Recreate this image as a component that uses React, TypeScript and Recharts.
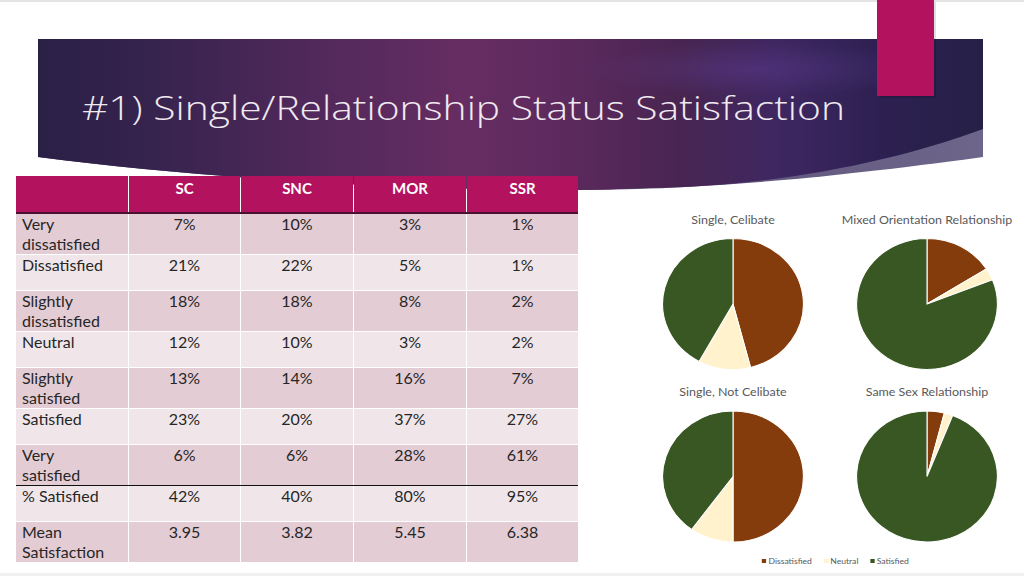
import React from 'react';
import { PieChart, Pie, Cell } from 'recharts';

// ---------- data ----------
const slideTitle = '#1) Single/Relationship Status Satisfaction';
const tableColumns = ['SC', 'SNC', 'MOR', 'SSR'];
const rowLabels = [
  'Very\ndissatisfied',
  'Dissatisfied',
  'Slightly\ndissatisfied',
  'Neutral',
  'Slightly\nsatisfied',
  'Satisfied',
  'Very\nsatisfied',
  '% Satisfied',
  'Mean\nSatisfaction',
];
const scValues = ['7%', '21%', '18%', '12%', '13%', '23%', '6%', '42%', '3.95'];
const sncValues = ['10%', '22%', '18%', '10%', '14%', '20%', '6%', '40%', '3.82'];
const morValues = ['3%', '5%', '8%', '3%', '16%', '37%', '28%', '80%', '5.45'];
const ssrValues = ['1%', '1%', '2%', '2%', '7%', '27%', '61%', '95%', '6.38'];

const pieCategories = ['Dissatisfied', 'Neutral', 'Satisfied'];
const scPie = [46, 12, 42];
const sncPie = [50, 10, 40];
const morPie = [16, 3, 81];
const ssrPie = [4, 2, 95];
const pieTitles = ['Single, Celibate', 'Mixed Orientation Relationship', 'Single, Not Celibate', 'Same Sex Relationship'];
const pieColors = ['#843C0C', '#FFF2CC', '#385723'];

// ---------- layout ----------
const colEdges = [16, 128, 240, 353, 466, 578];
const headerTop = 176;
const headerBottom = 213;
const rowHeights = [41, 36, 41, 36, 41, 36, 41, 36, 41];
const darkRow = '#E4CCD4';
const lightRow = '#F0E6EA';
const magenta = '#B3125E';

const toData = (vals: number[]) => vals.map((v, i) => ({ name: pieCategories[i], value: v }));

const SCALE_X = 1.075;
const PIE_LEFT = 650;
const PIE_TOP = 200;
const pre = (x: number) => (x - PIE_LEFT) / SCALE_X;

const pies = [
  { vals: scPie, cx: pre(733), cy: 304 - PIE_TOP, title: pieTitles[0], ty: 12 },
  { vals: morPie, cx: pre(927), cy: 304 - PIE_TOP, title: pieTitles[1], ty: 12 },
  { vals: sncPie, cx: pre(733), cy: 476.5 - PIE_TOP, title: pieTitles[2], ty: 184 },
  { vals: ssrPie, cx: pre(927), cy: 476.5 - PIE_TOP, title: pieTitles[3], ty: 184 },
];

const columnsValues = [scValues, sncValues, morValues, ssrValues];

function Banner() {
  return (
    <svg width={1024} height={576} style={{ position: 'absolute', left: 0, top: 0 }}>
      <defs>
        <linearGradient id="bannerGrad" x1="0" x2="1" y1="0" y2="0">
          <stop offset="0" stopColor="#2A2046" />
          <stop offset="0.12" stopColor="#36234E" />
          <stop offset="0.3" stopColor="#52295C" />
          <stop offset="0.45" stopColor="#662D62" />
          <stop offset="0.55" stopColor="#5E2A5E" />
          <stop offset="0.68" stopColor="#482551" />
          <stop offset="0.78" stopColor="#3F2762" />
          <stop offset="0.9" stopColor="#2C2050" />
          <stop offset="1" stopColor="#262047" />
        </linearGradient>
        <radialGradient id="glow" cx="0.76" cy="0.2" r="0.18">
          <stop offset="0" stopColor="#5E3C92" stopOpacity="0.45" />
          <stop offset="1" stopColor="#5E3C92" stopOpacity="0" />
        </radialGradient>
        <linearGradient id="sweepGrad" x1="0" x2="1" y1="0" y2="0">
          <stop offset="0" stopColor="#4A3660" />
          <stop offset="0.6" stopColor="#5C5078" />
          <stop offset="1" stopColor="#6E668A" />
        </linearGradient>
      </defs>
      <rect x={0} y={0} width={1024} height={2} fill="#E4E4E4" />
      <rect x={0} y={573} width={1024} height={3} fill="#F0F0F0" />
      <path d="M983,157 C800,182 680,190 570,190 C400,190 200,178 38,157 L38,39 L983,39 Z" fill="url(#sweepGrad)" />
      <path
        d="M38,39 H983 V129 C900,160 780,186 650,188 C620,189 595,190 570,190 C400,190 200,178 38,157 Z"
        fill="url(#bannerGrad)"
      />
      <path
        d="M38,39 H983 V129 C900,160 780,186 650,188 C620,189 595,190 570,190 C400,190 200,178 38,157 Z"
        fill="url(#glow)"
      />
      <rect x={879} y={2} width={57} height={96} fill="#000" opacity={0.12} />
      <rect x={877} y={0} width={57} height={96} fill={magenta} />
      <text
        x={82}
        y={120}
        fontFamily="'Open Sans', 'DejaVu Sans', sans-serif"
        fontWeight={300}
        fontSize={33}
        fill="#F0EAF0"
        textLength={763}
        lengthAdjust="spacingAndGlyphs"
      >
        {slideTitle}
      </text>
    </svg>
  );
}

function Table() {
  const cells: React.ReactNode[] = [];
  for (let c = 0; c < 5; c++) {
    const left = colEdges[c];
    const width = colEdges[c + 1] - colEdges[c];
    cells.push(
      <div
        key={`h${c}`}
        style={{
          position: 'absolute',
          left: left + (c === 0 ? 0 : 1),
          top: headerTop,
          width: width - (c === 0 ? 0 : 1),
          height: headerBottom - headerTop,
          background: magenta,
          color: '#fff',
          fontFamily: "Lato, 'Open Sans', sans-serif",
          fontWeight: 700,
          fontSize: 15,
          lineHeight: '20px',
          paddingTop: 2,
          boxSizing: 'border-box',
          textAlign: 'center',
        }}
      >
        {c === 0 ? '' : tableColumns[c - 1]}
      </div>
    );
  }
  cells.push(
    <div key="hline" style={{ position: 'absolute', left: colEdges[0], top: headerBottom - 1, width: colEdges[5] - colEdges[0], height: 2, background: '#4A1230' }} />
  );
  let top = headerBottom + 1;
  rowHeights.forEach((h, r) => {
    const bg = r % 2 === 0 ? darkRow : lightRow;
    for (let c = 0; c < 5; c++) {
      const left = colEdges[c];
      const width = colEdges[c + 1] - colEdges[c];
      const text = c === 0 ? rowLabels[r] : columnsValues[c - 1][r];
      cells.push(
        <div
          key={`r${r}c${c}`}
          style={{
            position: 'absolute',
            left: left + (c === 0 ? 0 : 1),
            top: top,
            width: width - (c === 0 ? 0 : 1),
            height: h - 1,
            background: bg,
            color: '#262626',
            fontFamily: "Lato, 'Open Sans', sans-serif",
            fontSize: 16,
            lineHeight: '20px',
            paddingTop: 0,
            paddingLeft: c === 0 ? 6 : 0,
            boxSizing: 'border-box',
            textAlign: c === 0 ? 'left' : 'center',
            whiteSpace: 'pre-line',
          }}
        >
          {text}
        </div>
      );
    }
    top += h;
    if (r === 6) {
      cells.push(
        <div key="blackline" style={{ position: 'absolute', left: colEdges[0], top: top - 1.5, width: colEdges[5] - colEdges[0], height: 1.5, background: '#111' }} />
      );
    }
  });
  return <>{cells}</>;
}

function Pies() {
  return (
    <div
      style={{
        position: 'absolute',
        left: PIE_LEFT,
        top: PIE_TOP,
        width: 345,
        height: 376,
        transform: `scaleX(${SCALE_X})`,
        transformOrigin: '0 0',
      }}
    >
      <PieChart width={345} height={376} margin={{ top: 0, right: 0, bottom: 0, left: 0 }}>
        {pies.map((p, i) => (
          <Pie
            key={i}
            data={toData(p.vals)}
            dataKey="value"
            nameKey="name"
            cx={p.cx}
            cy={p.cy}
            outerRadius={65.5}
            innerRadius={0}
            startAngle={90}
            endAngle={-270}
            stroke="#fff"
            strokeWidth={1}
            isAnimationActive={false}
            label={false}
            labelLine={false}
          >
            {p.vals.map((_, j) => (
              <Cell key={j} fill={pieColors[j]} />
            ))}
          </Pie>
        ))}
      </PieChart>
      {pies.map((p, i) => (
        <div
          key={`t${i}`}
          style={{
            position: 'absolute',
            left: p.cx,
            top: p.ty,
            transform: 'translateX(-50%)',
            whiteSpace: 'nowrap',
            fontFamily: "Lato, 'Open Sans', sans-serif",
            fontSize: 11.6,
            lineHeight: '15px',
            color: '#595959',
          }}
        >
          {p.title}
        </div>
      ))}
      <div
        style={{
          position: 'absolute',
          left: pre(762),
          top: 356,
          display: 'flex',
          alignItems: 'center',
          fontFamily: "Lato, 'Open Sans', sans-serif",
          fontSize: 8,
          lineHeight: '10px',
          color: '#595959',
          whiteSpace: 'nowrap',
        }}
      >
        {pieCategories.map((name, i) => (
          <div key={name} style={{ display: 'flex', alignItems: 'center', marginRight: 11 }}>
            <div style={{ width: 4, height: 4, background: pieColors[i], marginRight: 2 }} />
            <span>{name}</span>
          </div>
        ))}
      </div>
    </div>
  );
}

export default function App() {
  return (
    <div style={{ position: 'absolute', left: 0, top: 0, width: 1024, height: 576, background: '#fff', overflow: 'hidden' }}>
      <Banner />
      <Table />
      <Pies />
    </div>
  );
}
